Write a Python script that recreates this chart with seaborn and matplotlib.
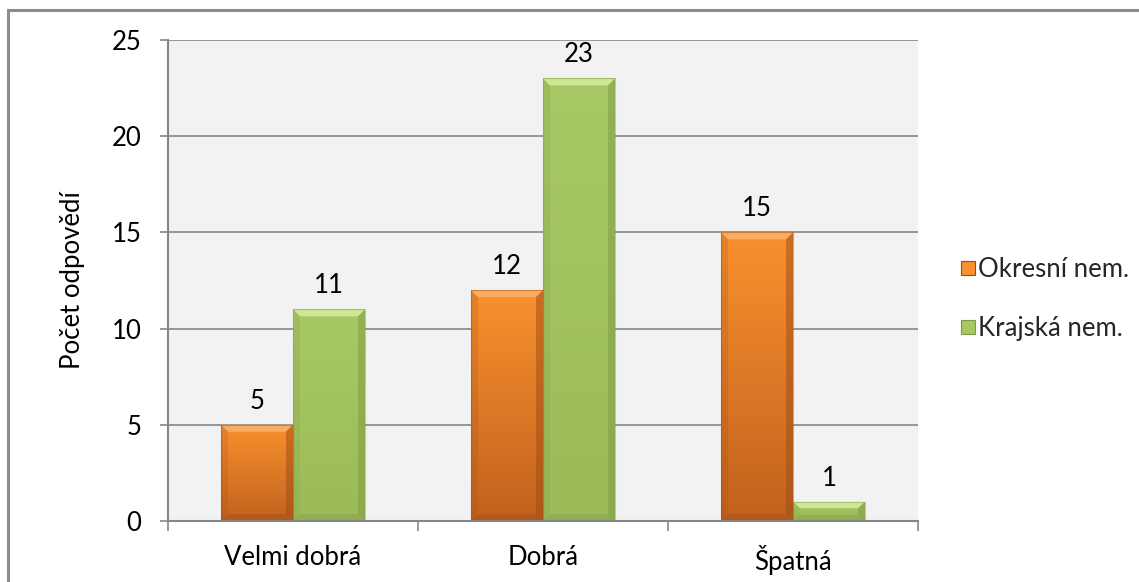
import numpy as np
import pandas as pd
import matplotlib
matplotlib.use("Agg")
import matplotlib.pyplot as plt
from matplotlib.patches import Polygon, Rectangle
from matplotlib.colors import to_rgb
from matplotlib.lines import Line2D
import seaborn as sns

# --- data ---------------------------------------------------------------
kategorie = ["Velmi dobrá", "Dobrá", "Špatná"]
okresni = [5, 12, 15]
krajska = [11, 23, 1]
serie = ["Okresní nem.", "Krajská nem."]
y_ticks = [0, 5, 10, 15, 20, 25]

df = pd.DataFrame({
    "kategorie": kategorie * 2,
    "pocet": okresni + krajska,
    "nemocnice": [serie[0]] * 3 + [serie[1]] * 3,
})

# --- style --------------------------------------------------------------
sns.set_theme(style="white")
plt.rcParams["font.family"] = ["Lato", "DejaVu Sans"]
grid_c = "#878787"
FS = 18.5

fig = plt.figure(figsize=(11.39, 5.82), dpi=100)
ax = fig.add_axes([168 / 1139, 61 / 582, 750 / 1139, 481 / 582])
ax.set_facecolor("#f2f2f2")

# outer chart frame
fig.patches.append(Rectangle((8 / 1139, -0.2), 1.2, 0.2 + (582 - 10) / 582,
                             transform=fig.transFigure, fill=False,
                             edgecolor="#8c8c8c", linewidth=2.2, zorder=0))

top_cols = ["#f8912e", "#a8c866"]
bot_cols = ["#c2611e", "#9cbb58"]
light_cols = ["#fbb36a", "#d6ef9e"]
dark_cols = ["#9e4c15", "#7e9a44"]

sns.barplot(data=df, x="kategorie", y="pocet", hue="nemocnice",
            palette=top_cols, width=0.576, saturation=1, gap=0,
            edgecolor="none", linewidth=0, ax=ax, legend=False, zorder=2)

ax.set_xlim(-0.5, 2.5)
ax.set_ylim(0, 25)

# beveled, shaded bar faces
px_x = 3 / 750      # data units per pixel (x)
px_y = 25 / 481     # data units per pixel (y)
for si, cont in enumerate(ax.containers):
    c_top = np.array(to_rgb(top_cols[si]))
    c_bot = np.array(to_rgb(bot_cols[si]))
    grad = np.linspace(0, 1, 256)[:, None, None]
    img = c_top * (1 - grad) + c_bot * grad
    for rect in cont.patches:
        x0, w, h = rect.get_x(), rect.get_width(), rect.get_height()
        im = ax.imshow(img, extent=[x0, x0 + w, 0, h], origin="upper",
                       aspect="auto", zorder=2.1, interpolation="bilinear")
        im.set_clip_path(rect)
        bx, by = 7 * px_x, min(7 * px_y, h / 3)
        x1 = x0 + w
        # top
        ax.add_patch(Polygon([(x0, h), (x1, h), (x1 - bx, h - by), (x0 + bx, h - by)],
                             closed=True, color=light_cols[si], alpha=0.85, lw=0, zorder=2.2))
        # right
        ax.add_patch(Polygon([(x1, h), (x1, 0), (x1 - bx, by), (x1 - bx, h - by)],
                             closed=True, color=dark_cols[si], alpha=0.5, lw=0, zorder=2.2))
        # left
        ax.add_patch(Polygon([(x0, h), (x0, 0), (x0 + bx, by), (x0 + bx, h - by)],
                             closed=True, color=dark_cols[si], alpha=0.2, lw=0, zorder=2.2))
        # bottom
        ax.add_patch(Polygon([(x0, 0), (x1, 0), (x1 - bx, by), (x0 + bx, by)],
                             closed=True, color=dark_cols[si], alpha=0.4, lw=0, zorder=2.2))
        ax.add_patch(Rectangle((x0, 0), w, h, fill=False, edgecolor=dark_cols[si],
                               alpha=0.45, lw=0.8, zorder=2.3))
    ax.bar_label(cont, labels=[str(int(v)) for v in cont.datavalues],
                 padding=8, fontsize=FS, color="#000000", zorder=3)

# axes
ax.set_yticks(y_ticks)
ax.yaxis.grid(True, color=grid_c, linewidth=1.2, zorder=0)
ax.set_axisbelow(True)
for s in ["top", "right"]:
    ax.spines[s].set_visible(False)
for s in ["left", "bottom"]:
    ax.spines[s].set_color(grid_c)
    ax.spines[s].set_linewidth(1.5)
    ax.spines[s].set_zorder(4)

ax.tick_params(axis="y", which="major", left=True, length=6, width=1.2,
               color=grid_c, labelsize=FS, labelcolor="#000000", pad=13)
ax.set_xticks([0, 1, 2])
ax.set_xticklabels(kategorie)
ax.tick_params(axis="x", which="major", bottom=False, labelsize=FS,
               labelcolor="#000000", pad=11)
ax.set_xticks([-0.5, 0.5, 1.5, 2.5], minor=True)
ax.tick_params(axis="x", which="minor", bottom=True, length=7, width=1.2,
               color=grid_c)

ax.set_xlabel("")
ax.set_ylabel("Počet odpovědí", fontsize=FS, color="#000000", labelpad=19)

# legend
handles = [Line2D([], [], marker="s", linestyle="none", markersize=10,
                  markerfacecolor=top_cols[i], markeredgecolor=dark_cols[i],
                  markeredgewidth=0.8) for i in range(2)]
fig.legend(handles, serie, loc="center left", bbox_to_anchor=(947 / 1139, 1 - 299 / 582),
           frameon=False, fontsize=FS, handletextpad=0.0, labelspacing=1.3,
           borderaxespad=0, handlelength=0.8)

fig.savefig("out.png", dpi=100)
